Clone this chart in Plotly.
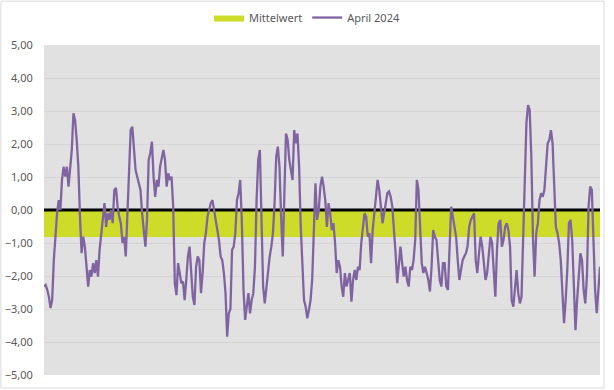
import plotly.graph_objects as go

# Stündliche Werte April 2024
april_2024 = [
    -2.32, -2.27, -2.42, -2.63, -2.97, -2.73, -1.52, -0.70, -0.10, 0.30, 0.0, 0.91, 1.31, 1.01, 1.31, 0.71, 1.16, 1.82, 2.93, 2.73,
    2.12, 1.31, -0.2, -1.31, -0.81, -1.11, -1.72, -2.32, -1.82, -2.02, -1.61, -1.91, -1.52, -2.02, -1.21, -0.70, -0.10, 0.21, -0.51, -0.1,
    -0.30, 0.0, -0.4, 0.61, 0.67, 0.1, -0.2, -0.4, -1.0, -0.81, -1.41, 0.0, 1.31, 2.42, 2.52, 1.82, 1.21, 1.01, 0.82,
    0.61, -0.1, -0.51, -1.11, -0.3, 1.52, 1.72, 2.07, 1.01, 0.40, 0.91, 0.71, 1.31, 1.57, 1.82, 1.52, 0.71, 1.11, 0.91, 1.01,
    0.1, -2.22, -2.58, -1.61, -1.91, -2.22, -2.17, -2.73, -2.12, -1.41, -1.11, -1.91, -2.63, -2.88, -1.72, -1.41, -1.52, -2.52, -1.91, -1.0,
    -0.70, -0.2, 0.0, 0.21, 0.30, 0.0, -0.2, -0.61, -0.91, -1.41, -1.52, -1.91, -2.52, -3.84, -3.13,
    -3.0, -1.21, -1.11, -0.70, 0.30, 0.51, 0.91, -0.4, -2.42, -3.33, -2.93, -2.52, -3.13, -2.73, -2.52, -1.72, 0.30, 1.52, 1.82, -0.2,
    -2.32, -2.83, -2.32, -1.82, -1.41, -1.11, -0.70, 0.21, 1.62, 1.92, 1.31, -0.2, -1.41, 0.51, 2.32, 2.12, 1.52, 1.21, 0.91, 2.42,
    2.02, 2.32, 1.31, -0.51, -1.82, -2.73, -2.93, -3.28, -3.03, -2.73, -2.12, -0.70, 0.81, -0.30, 0.0, 0.71,
    1.01, 0.71, 0.30, -0.51, 0.21, -0.1, -0.61, -0.4, -1.0, -1.91, -1.52, -1.72, -2.32, -2.63, -1.91, -2.32, -2.12, -1.91, -2.78, -2.12,
    -1.82, -2.12, -1.72, -1.82, -1.0, -0.51, -0.1, -0.2, -0.81, -0.70, -1.61, -0.61, -0.1, 0.40, 0.91, 0.61, 0.0, -0.4, -0.1, 0.21,
    0.51, 0.56, 0.40, 0.1, -0.51, -1.31, -2.22, -1.52, -1.11, -1.61, -2.02, -1.72,
    -2.12, -2.32, -1.72, -1.82, -1.52, -0.91, 0.91, 0.61, -0.70, -1.61, -1.91, -1.72, -1.91, -2.12, -2.47, -1.72, -0.61, -0.81, -0.91, -1.41,
    -2.12, -2.32, -1.61, -1.61, -2.32, -2.42, -1.11, 0.1, -0.2, -0.51, -0.81, -1.52, -2.12, -1.82, -1.52, -1.41, -1.31, -1.11, -0.51, -0.30,
    -0.2, -0.1, -1.52, -1.91, -1.31, -0.81, -1.11, -1.72, -2.12, -1.91, -1.41, -0.81, -1.0, -1.91, -2.63,
    -1.21, -0.4, -0.30, -1.11, -0.91, -0.51, -0.4, -0.61, -1.11, -2.73, -2.93, -2.32, -1.82, -2.52, -2.83, -2.63, -0.81, 0.30, 2.63, 3.18,
    3.03, 1.62, -0.81, -2.02, -0.70, -0.4, 0.30, 0.51, 0.40, 0.61, 1.31, 2.02, 2.12, 2.42, 2.02, 0.40, -0.51, -0.70, -1.0, -1.52,
    -2.32, -3.43, -2.73, -1.82, -0.4, -0.30, -0.91, -2.22, -3.64, -2.73, -1.82, -1.31, -1.52, -2.42, -2.83, -2.02, 0.1, 0.71, 0.61, -0.70,
    -2.42, -3.13, -2.42, -1.72,
]
mittelwert = -0.82
nulllinie = 0.0
y_ticks = [5, 4, 3, 2, 1, 0, -1, -2, -3, -4, -5]

n = len(april_2024)
x = list(range(n))

fig = go.Figure()
fig.add_trace(go.Scatter(
    x=x, y=[mittelwert] * n, name="Mittelwert", mode="lines",
    line=dict(color="rgba(0,0,0,0)", width=0), fill="tozeroy",
    fillcolor="#CDDC29", hoverinfo="skip",
))
fig.add_trace(go.Scatter(
    x=x, y=[nulllinie] * n, mode="lines", showlegend=False,
    line=dict(color="#000000", width=3), hoverinfo="skip",
))
fig.add_trace(go.Scatter(
    x=x, y=april_2024, name="April 2024", mode="lines",
    line=dict(color="#8064A2", width=2.3),
))

fig.update_layout(
    width=614, height=390,
    margin=dict(l=44, r=14, t=45, b=15, autoexpand=False),
    paper_bgcolor="#FFFFFF",
    plot_bgcolor="#E1E1E1",
    separators=",.",
    font=dict(family="Noto Sans", size=11, color="#595959"),
    showlegend=True,
    legend=dict(orientation="h", xref="container", yref="container",
                x=0.5, xanchor="center", y=0.955, yanchor="middle",
                font=dict(size=11, color="#595959"), itemwidth=30,
                bgcolor="rgba(0,0,0,0)"),
    xaxis=dict(range=[0, n - 1], showgrid=False, zeroline=False,
               showticklabels=False, showline=False, fixedrange=True,
               automargin=False),
    yaxis=dict(range=[-5, 5], tickvals=y_ticks, tickformat=".2f",
               showgrid=True, gridcolor="#D5D5D5", gridwidth=1,
               zeroline=False, showline=False, automargin=False,
               ticks="outside", ticklen=8, tickcolor="rgba(0,0,0,0)",
               tickfont=dict(size=11, color="#595959")),
    shapes=[dict(type="rect", xref="paper", yref="paper",
                 x0=-0.0775, x1=1.0072, y0=-0.0394, y1=1.133,
                 line=dict(color="#D9D9D9", width=1), fillcolor="rgba(0,0,0,0)",
                 layer="below")],
)

fig.write_html("out.html")
